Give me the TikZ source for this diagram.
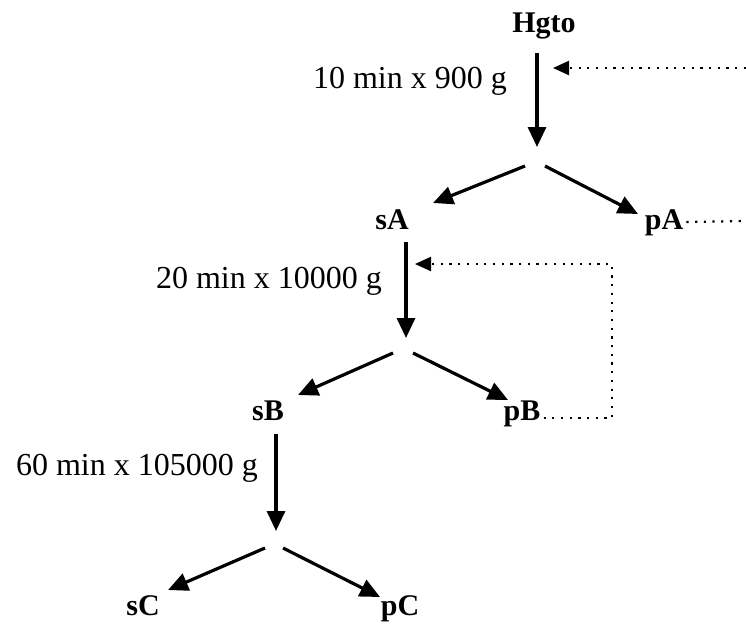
\documentclass[tikz,border=0pt]{standalone}
\usepackage{fontspec}
\setmainfont{Liberation Serif}
\usetikzlibrary{arrows.meta,calc}
\begin{document}
\begin{tikzpicture}[x=1pt,y=-1pt,
  lbl/.style={font=\fontsize{30}{34}\selectfont\bfseries,inner sep=0pt,anchor=base},
  cond/.style={font=\fontsize{32}{36}\selectfont,inner sep=0pt,anchor=base east},
  flow/.style={line width=3.2pt,-{Triangle[length=20pt,width=18pt]}},
  recyc/.style={line width=2.2pt,dash pattern=on 2.2pt off 6.5pt},
  recycarrow/.style={recyc,-{Triangle[length=16pt,width=14pt]}}]
\useasboundingbox (0,0) rectangle (746,627);
% labels
\node[lbl] (hg) at (544,32) {Hgto};
\node[cond] (c1) at (507,88) {10 min x 900 g};
\node[lbl] (sA) at (392,229) {sA};
\node[lbl] (pA) at (664,229) {pA};
\node[cond] (c2) at (382,288) {20 min x 10000 g};
\node[lbl] (sB) at (268,420) {sB};
\node[lbl] (pB) at (522,420) {pB};
\node[cond] (c3) at (258,475) {60 min x 105000 g};
\node[lbl] (sC) at (143,615) {sC};
\node[lbl] (pC) at (400,615) {pC};
% coordinates
\coordinate (v1s) at (537,53);  \coordinate (v1e) at (537,147);
\coordinate (l1s) at (525,166); \coordinate (l1e) at (433,203);
\coordinate (r1s) at (545,166); \coordinate (r1e) at (638,214);
\coordinate (v2s) at (406,242); \coordinate (v2e) at (406,338);
\coordinate (l2s) at (393,353); \coordinate (l2e) at (298,395);
\coordinate (r2s) at (413,353); \coordinate (r2e) at (508,400);
\coordinate (v3s) at (276,434); \coordinate (v3e) at (276,531);
\coordinate (l3s) at (265,548); \coordinate (l3e) at (168,590);
\coordinate (r3s) at (283,548); \coordinate (r3e) at (380,597);
\coordinate (inA) at (746,68);  \coordinate (tipA) at (553,68);
\coordinate (outA) at (746,221);
\coordinate (tipB) at (415,264); \coordinate (cB1) at (612,264);
\coordinate (cB2) at (612,418);
% solid arrows
\draw[flow] (v1s) -- (v1e);
\draw[flow] (l1s) -- (l1e);
\draw[flow] (r1s) -- (r1e);
\draw[flow] (v2s) -- (v2e);
\draw[flow] (l2s) -- (l2e);
\draw[flow] (r2s) -- (r2e);
\draw[flow] (v3s) -- (v3e);
\draw[flow] (l3s) -- (l3e);
\draw[flow] (r3s) -- (r3e);
% dotted recycle lines
\draw[recycarrow] (inA) -- (tipA);
\draw[recyc] ($(pA.base east)+(3,-7)$) -- (outA);
\draw[recycarrow] ($(pB.base east)+(3,-2)$) -- (cB2) -- (cB1) -- (tipB);
\end{tikzpicture}
\end{document}
